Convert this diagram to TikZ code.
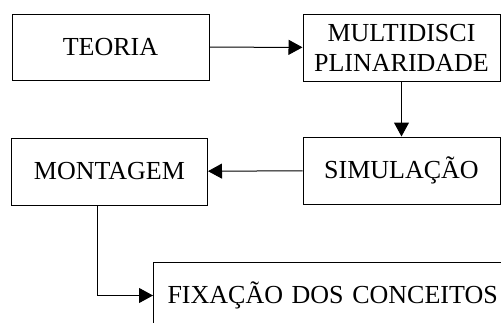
\documentclass[tikz,border=0pt]{standalone}
\usepackage{fontspec}
\setmainfont{Liberation Serif}
\usetikzlibrary{arrows.meta}

\begin{document}
\begin{tikzpicture}[x=1pt, y=-1pt, line width=1pt,
    box/.style={draw, align=center, minimum height=66pt, inner sep=0pt,
        font=\fontsize{26}{30}\selectfont},
    link/.style={-{Triangle[length=14pt, width=15pt]}}]
    \clip (0,0) rectangle (501,322);
    \node[box, minimum width=197pt] (teoria) at (110.5,47) {TEORIA};
    \node[box, minimum width=197pt, minimum height=67pt] (multi) at (401.5,47.5) {MULTIDISCI\\PLINARIDADE};
    \node[box, minimum width=197pt, minimum height=67pt] (sim) at (401.5,170.5) {SIMULAÇÃO};
    \node[box, minimum width=196pt, minimum height=67pt] (mont) at (109.5,171.5) {MONTAGEM};
    \node[box, anchor=north west, align=left, text width=340pt, inner xsep=14pt] (fix) at (153,262) {FIXAÇÃO DOS CONCEITOS};
    \draw[link] (teoria) -- (multi);
    \draw[link] (multi) -- (sim);
    \draw[link] (sim) -- (mont);
    \draw[link] ([xshift=-12pt]mont.south) |- (fix.west);
\end{tikzpicture}
\end{document}
